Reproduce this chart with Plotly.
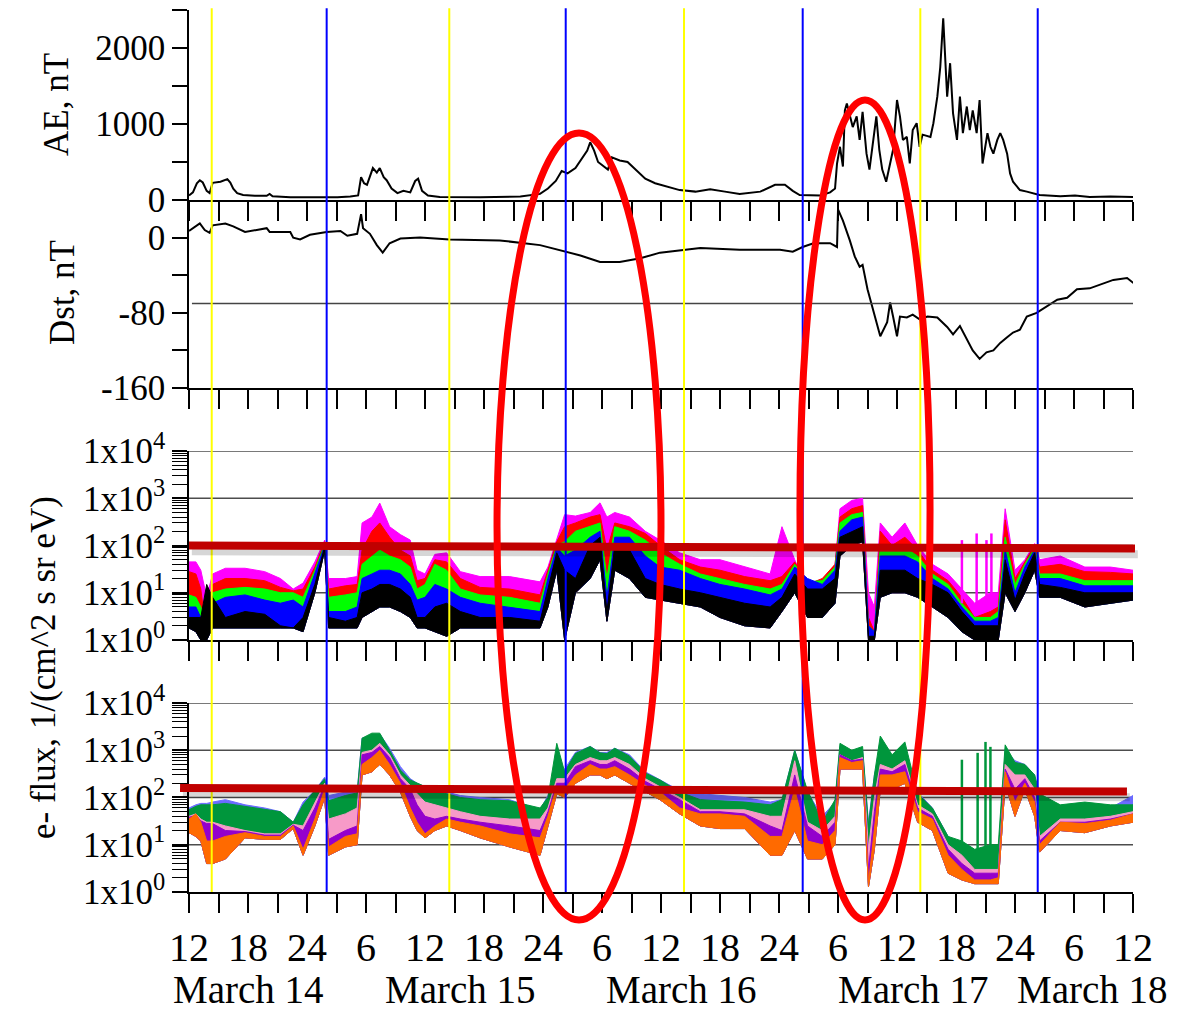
import plotly.graph_objects as go

# ---------------- data (hours since March 14 00:00 UT) ----------------
ae_t = [12.0, 12.4, 12.8, 13.1, 13.4, 13.8, 14.1, 14.4, 15.2, 15.9, 16.2, 16.5, 16.9, 17.5, 18.7, 19.9,
        20.2, 20.5, 22.3, 24.3, 27.1, 28.4, 29.2, 29.5, 29.8, 30.1, 30.7, 31.1, 31.4, 31.8, 32.1, 32.6,
        33.2, 33.8, 34.5, 35.0, 35.3, 35.7, 36.3, 37.5, 41.6, 45.7, 47.7, 48.5, 49.3, 49.9, 50.5, 51.3,
        52.0, 52.5, 52.8, 53.2, 53.6, 54.1, 54.6, 55.0, 55.8, 56.6, 57.4, 58.4, 59.4, 60.4, 61.9, 63.5,
        65.0, 66.5, 68.0, 70.1, 71.6, 72.6, 73.4, 74.1, 76.2, 77.2, 77.7, 77.9, 78.2, 78.5, 78.7, 78.9,
        79.5, 79.9, 80.2, 80.5, 80.9, 81.2, 81.9, 82.2, 82.5, 82.9, 83.6, 84.0, 84.3, 84.6, 85.0, 85.3,
        85.6, 86.0, 86.3, 86.6, 87.4, 87.7, 88.1, 88.4, 88.7, 89.1, 89.4, 89.7, 90.1, 90.4, 90.7, 91.1,
        91.4, 91.7, 92.1, 92.4, 92.7, 93.2, 93.5, 93.8, 94.2, 94.5, 94.8, 95.2, 95.5, 95.8, 96.5, 97.2,
        97.8, 98.5, 100.6, 102.1, 103.6, 105.7, 108.0, 109.1]
ae_v = [60, 100, 220, 260, 230, 120, 90, 225, 240, 275, 230, 150, 90, 65, 55, 55,
        80, 50, 35, 35, 35, 45, 60, 300, 220, 200, 420, 360, 420, 300, 260, 150,
        90, 120, 100, 250, 280, 120, 60, 40, 35, 45, 80, 150, 250, 380, 350, 420,
        550, 650, 760, 650, 500, 450, 400, 560, 520, 500, 400, 280, 220, 180, 130, 110,
        140, 110, 80, 110, 200, 200, 120, 65, 60, 100, 150, 480, 700, 440, 1180, 1270,
        960, 1100, 790, 1160, 610, 400, 1100, 660, 400, 240, 660, 1316, 1100, 790, 830, 480,
        920, 1010, 700, 860, 830, 1010, 1360, 1750, 2390, 1360, 1800, 1140, 790, 1360, 880, 1230,
        920, 1180, 880, 1316, 480, 880, 700, 610, 790, 880, 790, 610, 350, 240, 130, 110,
        90, 65, 50, 60, 40, 45, 40, 40]

dst_t = [12.0, 13.1, 13.6, 14.1, 14.4, 15.7, 16.5, 17.7, 19.9, 20.2, 22.3, 22.6, 23.3, 24.3, 26.0, 27.4,
         28.1, 29.1, 29.5, 29.7, 30.4, 31.1, 31.7, 32.4, 33.5, 35.5, 38.5, 43.6, 47.7, 49.7, 51.8, 53.8,
         55.8, 57.9, 59.9, 64.0, 68.0, 72.1, 73.4, 74.4, 75.5, 77.2, 77.9, 78.0, 78.5, 79.2, 79.7, 80.2,
         80.5, 81.0, 81.6, 82.3, 83.0, 83.3, 83.6, 84.0, 84.3, 85.0, 85.6, 86.3, 87.1, 88.1, 89.1, 89.7,
         90.4, 91.1, 91.7, 92.4, 93.1, 93.8, 94.5, 95.2, 95.8, 96.5, 97.2, 98.2, 99.3, 100.3, 101.3, 102.3,
         103.6, 104.6, 106.0, 107.4, 108.0, 109.0]
dst_v = [7, 15, 8, 5, 13, 15, 12, 6, 10, 6, 6, 0, -2, 3, 6, 7,
         2, 4, 25, 10, 4, -8, -16, -6, -1, 0, -2, -3, -8, -13, -19, -26,
         -26, -22, -16, -11, -13, -13, -15, -10, -6, -6, -10, 30, 18, -3, -20, -31,
         -29, -55, -77, -105, -90, -69, -84, -105, -84, -85, -82, -87, -84, -85, -95, -103,
         -94, -108, -120, -129, -122, -120, -112, -106, -101, -98, -84, -80, -73, -66, -64, -55,
         -54, -50, -45, -43, -48, -44]
dst_ref_level = -70

flux_t = [12.0, 12.7, 13.2, 13.8, 14.4, 15.7, 17.7, 19.7, 21.3, 22.6, 23.6, 24.8, 25.8, 26.2, 27.9,
          29.1, 29.6, 30.6, 31.4, 32.4, 33.5, 34.5, 35.2, 36.0, 37.0, 38.2, 39.6, 41.6, 44.6, 47.7,
          48.5, 49.4, 50.2, 51.3, 52.8, 53.8, 54.5, 55.3, 56.8, 58.4, 59.9, 61.9, 64.0, 66.0, 68.5,
          71.1, 72.3, 73.6, 74.9, 76.4, 77.7, 78.2, 79.4, 80.5, 81.1, 81.7, 82.3, 83.5, 84.8, 86.1,
          87.6, 89.2, 90.6, 91.9, 93.5, 94.3, 95.0, 96.0, 97.0, 98.0, 98.5, 100.6, 103.1, 105.7, 108.0]

# panel 3 (upper envelope of each channel, and common lower envelope)
p3_magenta = [45, 45, 30, 8, 25, 33, 33, 28, 20, 12, 16, 45, 130, 20, 20,
              22, 300, 400, 790, 250, 170, 130, 30, 25, 65, 70, 28, 22, 22, 17,
              35, 140, 450, 420, 500, 800, 400, 500, 400, 200, 130, 70, 50, 50, 35,
              25, 250, 50, 12, 15, 40, 600, 900, 1000, 10, 5, 300, 150, 300, 100,
              40, 25, 12, 6, 10, 10, 600, 30, 50, 110, 50, 60, 35, 35, 30]
p3_red = [28, 25, 12, 1.2, 15, 20, 20, 18, 13, 11, 12, 35, 120, 12, 14,
          15, 80, 200, 300, 150, 80, 60, 18, 20, 50, 45, 20, 13, 12, 9,
          30, 120, 250, 300, 400, 450, 80, 300, 250, 180, 100, 50, 35, 30, 22,
          18, 22, 45, 15, 20, 40, 400, 600, 700, 3, 1.5, 200, 100, 150, 80,
          30, 18, 8, 3, 4, 5, 350, 20, 45, 100, 35, 40, 28, 27, 25]
p3_green = [9, 8, 5, 2, 10, 12, 13, 12, 10, 10, 8, 30, 110, 8, 9,
            10, 40, 60, 80, 60, 50, 35, 12, 15, 40, 30, 12, 9, 8, 6,
            25, 100, 120, 200, 250, 300, 20, 250, 200, 130, 70, 40, 25, 20, 15,
            12, 15, 40, 17, 18, 35, 300, 450, 500, 2, 1.5, 100, 80, 90, 60,
            25, 15, 6, 3, 3, 4, 150, 15, 40, 90, 25, 25, 18, 18, 18]
p3_blue = [5, 5, 3, 2, 6, 8, 9, 7, 6, 7, 5, 25, 100, 4, 4,
           5, 20, 25, 30, 30, 25, 15, 7, 8, 15, 12, 8, 6, 5, 4,
           20, 90, 60, 80, 150, 200, 8, 150, 150, 60, 35, 30, 20, 15, 12,
           9, 12, 35, 20, 15, 30, 200, 350, 400, 2, 1.5, 60, 60, 60, 45,
           20, 12, 5, 2.5, 2.5, 3, 80, 10, 35, 80, 20, 20, 14, 14, 14]
p3_black = [3, 3, 3, 15, 8, 3, 4, 3.5, 2, 1.8, 3, 15, 95, 3, 2.5,
            3, 10, 12, 15, 15, 12, 8, 3, 3, 5, 6, 4, 3, 3, 2.5,
            12, 70, 30, 20, 100, 150, 4, 100, 80, 20, 15, 12, 10, 8, 6,
            5, 8, 25, 12, 12, 20, 150, 200, 250, 1.2, 1.2, 30, 30, 30, 20,
            15, 10, 4, 2, 2, 2, 50, 7, 25, 70, 15, 13, 10, 10, 10]
p3_low = [1.8, 1.5, 1.0, 1.0, 1.8, 1.8, 1.8, 1.8, 1.8, 1.8, 1.5, 10, 80, 1.8, 1.8,
          1.8, 3, 4, 5, 5, 4, 3, 1.8, 1.8, 1.5, 1.2, 1.8, 1.8, 1.8, 1.8,
          5, 30, 1.0, 10, 20, 50, 2.5, 30, 20, 8, 7, 6, 5, 3, 2,
          1.8, 4, 10, 3, 3, 6, 60, 100, 120, 1.0, 1.0, 8, 10, 10, 8,
          5, 3, 1.5, 1.0, 1.0, 1.0, 10, 4, 10, 30, 8, 8, 5, 6, 7]
p3_spike_t = [90.6, 92.1, 93.1, 93.6]
p3_spike_hi = [130, 180, 130, 180]
p3_spike_lo = [6, 6, 6, 6]

# panel 4
p4_lightblue = [60, 70, 75, 75, 80, 90, 70, 60, 50, 30, 80, 140, 270, 110, 130,
                140, 1800, 2000, 2200, 1100, 450, 250, 200, 170, 140, 130, 110, 100, 90, 55,
                110, 400, 400, 900, 1200, 900, 900, 1100, 800, 350, 240, 140, 120, 110, 100,
                80, 90, 1000, 130, 40, 80, 1200, 900, 1000, 30, 300, 1000, 600, 1000, 130,
                60, 15, 10, 5, 5, 5, 1000, 600, 500, 300, 35, 50, 45, 60, 110]
p4_green = [55, 65, 70, 70, 70, 75, 65, 55, 50, 30, 70, 140, 250, 85, 110,
            125, 1800, 2300, 2300, 1000, 380, 235, 200, 170, 140, 120, 100, 90, 85, 60,
            100, 1400, 350, 850, 1200, 880, 850, 1100, 750, 330, 235, 130, 90, 85, 80,
            70, 90, 1000, 140, 30, 90, 1400, 1000, 1200, 25, 300, 2000, 800, 1500, 120,
            60, 15, 12, 8, 10, 10, 1300, 550, 500, 300, 120, 70, 80, 70, 70]
p4_pink = [40, 45, 35, 30, 30, 25, 20, 17, 17, 27, 25, 80, 200, 35, 45,
           60, 900, 1000, 1400, 800, 300, 180, 120, 80, 70, 60, 50, 40, 35, 35,
           60, 250, 250, 500, 700, 600, 600, 700, 500, 250, 170, 100, 55, 55, 55,
           40, 40, 600, 30, 20, 40, 800, 600, 700, 8, 100, 500, 400, 600, 70,
           45, 10, 6, 3, 3, 3, 500, 300, 300, 150, 15, 35, 35, 40, 50]
p4_purple = [38, 42, 32, 28, 28, 20, 19, 16, 16, 26, 20, 60, 180, 13, 20,
             25, 800, 900, 1200, 700, 250, 150, 70, 40, 35, 40, 35, 30, 25, 20,
             50, 200, 200, 450, 600, 500, 500, 600, 400, 220, 150, 90, 50, 50, 45,
             25, 20, 300, 25, 15, 30, 800, 600, 650, 3, 50, 400, 350, 500, 60,
             40, 8, 4, 2.5, 2.5, 2.5, 400, 150, 250, 100, 12, 30, 30, 35, 45]
p4_orange = [35, 45, 30, 12, 12, 15, 18, 15, 15, 25, 8, 35, 150, 9, 15,
             17, 500, 700, 1000, 500, 200, 60, 30, 17, 25, 35, 30, 25, 17, 14,
             40, 170, 150, 300, 500, 400, 400, 450, 300, 180, 130, 60, 45, 45, 40,
             15, 15, 150, 12, 10, 20, 700, 550, 600, 1.5, 20, 300, 300, 350, 50,
             35, 6, 3, 1.8, 1.8, 2, 350, 80, 200, 80, 10, 30, 28, 33, 45]
p4_low = [18, 15, 12, 4, 4, 5, 14, 13, 13, 22, 6, 25, 100, 6, 9,
          10, 300, 350, 500, 300, 130, 40, 20, 14, 20, 25, 20, 14, 9, 6,
          25, 120, 100, 200, 300, 300, 250, 300, 200, 130, 90, 45, 25, 22, 22,
          6, 6, 20, 5, 5, 10, 400, 400, 400, 1.3, 8, 150, 150, 200, 30,
          20, 2.5, 1.8, 1.5, 1.5, 1.5, 200, 40, 150, 40, 7, 20, 18, 25, 30]
p4_spike_t = [90.6, 92.2, 93.0, 93.5]
p4_spike_hi = [630, 880, 1500, 1180]
p4_spike_lo = [10, 8, 8, 10]

yellow_lines = [14.31, 38.47, 62.34, 86.37]
blue_lines = [26.0, 50.31, 74.41, 98.31]

x_label_vals = list(range(12, 109, 6))
x_label_text = [str(h % 24 if h % 24 else 24) for h in x_label_vals]
date_labels = ["March 14", "March 15", "March 16", "March 17", "March 18"]
decades = [1, 10, 100, 1000, 10000]
decade_text = ["1x10<sup>%d</sup>" % i for i in range(len(decades))]

# ---------------- figure ----------------
FONT = "Liberation Serif, Times New Roman, serif"
fig = go.Figure()

fig.add_trace(go.Scatter(x=ae_t, y=ae_v, mode="lines", line=dict(color="black", width=2),
                         xaxis="x", yaxis="y", showlegend=False))
fig.add_trace(go.Scatter(x=dst_t, y=dst_v, mode="lines", line=dict(color="black", width=2),
                         xaxis="x2", yaxis="y2", showlegend=False))


def band(hi, lo, color, xa, ya):
    xs = flux_t + flux_t[::-1]
    ys = hi + lo[::-1]
    fig.add_trace(go.Scatter(x=xs, y=ys, mode="lines", fill="toself", fillcolor=color,
                             line=dict(color=color, width=1), xaxis=xa, yaxis=ya,
                             showlegend=False, hoverinfo="skip"))


def spikes(ts, his, los, color, xa, ya):
    xs, ys = [], []
    for t, h, l in zip(ts, his, los):
        xs += [t, t, None]
        ys += [l, h, None]
    fig.add_trace(go.Scatter(x=xs, y=ys, mode="lines", line=dict(color=color, width=2.5),
                             xaxis=xa, yaxis=ya, showlegend=False, hoverinfo="skip"))


for hi, col in [(p3_magenta, "#FF00FF"), (p3_red, "#FF0000"), (p3_green, "#00FF00"),
                (p3_blue, "#0000FF"), (p3_black, "#000000")]:
    band(hi, p3_low, col, "x3", "y3")
spikes(p3_spike_t, p3_spike_hi, p3_spike_lo, "#FF00FF", "x3", "y3")

for hi, col in [(p4_lightblue, "#6B6BFF"), (p4_green, "#00963C"), (p4_pink, "#F79AC8"),
                (p4_purple, "#9400CC"), (p4_orange, "#FF6A00")]:
    band(hi, p4_low, col, "x4", "y4")
spikes(p4_spike_t, p4_spike_hi, p4_spike_lo, "#00963C", "x4", "y4")

tick_style = dict(ticks="outside", tickwidth=1.5, tickcolor="black")
xcommon = dict(range=[12, 108], showline=True, linecolor="black", linewidth=1.5,
               ticklen=19, tickmode="array", tickvals=x_label_vals, ticktext=x_label_text,
               minor=dict(tickmode="linear", tick0=12, dtick=3, ticklen=19, showgrid=False, **tick_style),
               automargin=False, showgrid=False, zeroline=False, fixedrange=True, **tick_style)
ycommon = dict(showline=True, linecolor="black", linewidth=1.5, ticklen=15,
               zeroline=False, automargin=False, showgrid=False,
               tickfont=dict(family=FONT, size=35, color="black"), **tick_style)

logaxis = dict(type="log", range=[0, 4], tickmode="array", tickvals=decades, ticktext=decade_text,
               minor=dict(dtick="D1", ticklen=15, showgrid=False, ticks="outside", tickwidth=1,
                          tickcolor="black"))

fig.update_layout(
    width=1169, height=1005, margin=dict(l=181, r=44, t=2, b=121),
    paper_bgcolor="white", plot_bgcolor="white", showlegend=False,
    font=dict(family=FONT, color="black"),
    xaxis=dict(anchor="y", showticklabels=False, **xcommon),
    xaxis2=dict(anchor="y2", showticklabels=False, **xcommon),
    xaxis3=dict(anchor="y3", showticklabels=False, **xcommon),
    xaxis4=dict(anchor="y4", showticklabels=True, tickfont=dict(family=FONT, size=40, color="black"),
                **xcommon),
    yaxis=dict(domain=[0.7846, 1.0], range=[0, 2500], tickmode="array",
               tickvals=[0, 1000, 2000], ticktext=["0", "1000", "2000"],
               minor=dict(tickmode="linear", tick0=0, dtick=500, ticklen=15, showgrid=False, **tick_style),
               **ycommon),
    yaxis2=dict(domain=[0.5714, 0.7846], range=[-160, 40], tickmode="array",
                tickvals=[-160, -80, 0], ticktext=["-160", "-80", "0"],
                minor=dict(tickmode="linear", tick0=0, dtick=40, ticklen=15, showgrid=False, **tick_style),
                **ycommon),
    yaxis3=dict(domain=[0.2857, 0.5], **logaxis, **ycommon),
    yaxis4=dict(domain=[0.0, 0.2143], **logaxis, **ycommon),
)

shapes = []
# decade grid lines
for ya in ["y3", "y4"]:
    for d in decades[1:]:
        shapes.append(dict(type="line", xref="x4", yref=ya, x0=12, x1=108, y0=d, y1=d, layer="below",
                           line=dict(color="#4d4d4d", width=1.5)))
shapes.append(dict(type="line", xref="x2", yref="y2", x0=12.3, x1=108, y0=dst_ref_level,
                   y1=dst_ref_level, line=dict(color="#444444", width=1.5)))
for xv in yellow_lines:
    shapes.append(dict(type="line", xref="x4", yref="paper", x0=xv, x1=xv, y0=0, y1=1.002,
                       line=dict(color="#FFFF00", width=2)))
for xv in blue_lines:
    shapes.append(dict(type="line", xref="x4", yref="paper", x0=xv, x1=xv, y0=0, y1=1.002,
                       line=dict(color="#0000FF", width=2)))
# threshold bars (with soft shadow)
for (x0, y0, x1, y1) in [(0.0, 0.3929, 1.0021, 0.3895), (-0.0095, 0.1179, 0.9936, 0.1139)]:
    shapes.append(dict(type="line", xref="paper", yref="paper", x0=x0 + 0.003, x1=x1 + 0.003,
                       y0=y0 - 0.0065, y1=y1 - 0.0065, line=dict(color="rgba(0,0,0,0.16)", width=8)))
    shapes.append(dict(type="line", xref="paper", yref="paper", x0=x0, x1=x1, y0=y0, y1=y1,
                       line=dict(color="#C00000", width=8)))
# ellipses
shapes.append(dict(type="circle", xref="paper", yref="paper", x0=0.3263, x1=0.5, y0=-0.0317,
                   y1=0.8605, line=dict(color="#FF0000", width=7)))
shapes.append(dict(type="circle", xref="paper", yref="paper", x0=0.6472, x1=0.785, y0=-0.0317,
                   y1=0.898, line=dict(color="#FF0000", width=7)))
fig.update_layout(shapes=shapes)

ann = []
for txt, xp in zip(date_labels, [0.0625, 0.288, 0.522, 0.767, 0.9566]):
    ann.append(dict(text=txt, xref="paper", yref="paper", x=xp, y=(892 - 989) / 882, showarrow=False,
                    xanchor="center", yanchor="middle", font=dict(family=FONT, size=39, color="black")))
for txt, xpx, ypx in [("AE, nT", 56, 105), ("Dst, nT", 62, 293), ("e- flux, 1/(cm^2 s sr eV)", 43, 668)]:
    ann.append(dict(text=txt, xref="paper", yref="paper", x=(xpx - 189) / 944, y=(892 - ypx) / 882,
                    showarrow=False, textangle=-90, xanchor="center", yanchor="middle",
                    font=dict(family=FONT, size=35, color="black")))
fig.update_layout(annotations=ann)

fig.write_html("out.html")
